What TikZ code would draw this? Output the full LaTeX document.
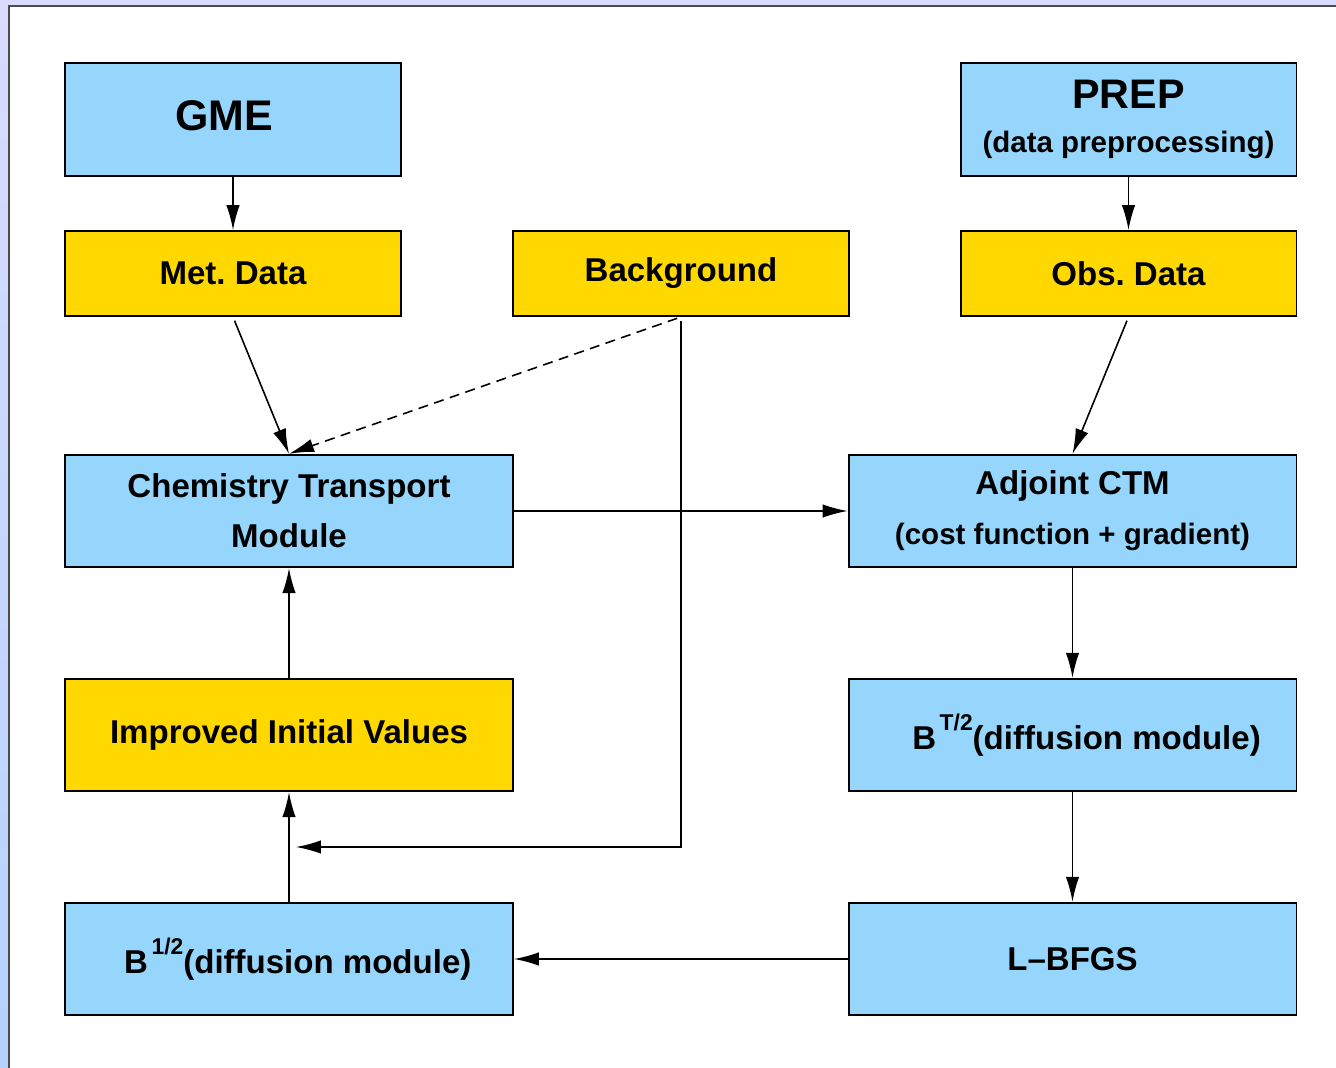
\documentclass[tikz,border=0pt]{standalone}
\usepackage{fontspec}
\setmainfont{Liberation Sans}
\usetikzlibrary{arrows.meta,calc}
\definecolor{boxblue}{RGB}{150,214,252}
\definecolor{boxyellow}{RGB}{255,216,0}
\definecolor{lavender}{RGB}{217,219,255}
\definecolor{edgeblue}{RGB}{182,210,255}
\frenchspacing

\begin{document}
\begin{tikzpicture}[x=0.02cm, y=-0.02cm,
      modbox/.style={rectangle, draw, line width=1.1pt, fill=boxblue, align=center,
        inner sep=0pt, font=\bfseries\fontsize{18.8}{28.3}\selectfont},
      databox/.style={modbox, fill=boxyellow},
      narrow/.style={minimum width=6.72cm},
      wide/.style={minimum width=8.96cm},
      tall/.style={minimum height=2.25cm},
      low/.style={minimum height=1.7cm},
      arr/.style={-{Latex[length=0.5cm,width=0.27cm]}, line width=0.9pt}]
      \useasboundingbox (0,0) rectangle (1336,1068);
      \fill[lavender] (0,0) rectangle (1336,5);
      \shade[top color=lavender, bottom color=edgeblue] (0,5) rectangle (8,1068);
      \draw[line width=0.9pt, black!70] (9,1068) -- (9,6) -- (1336,6);
      \node[modbox,narrow,tall,font=\bfseries\fontsize{24.4}{28}\selectfont](gme) at (233,119.5)
        {\raisebox{4pt}{GME}\hspace*{10pt}};
      \node[modbox,narrow,tall,font=\bfseries\fontsize{23.5}{25}\selectfont](prep) at (1128.5,119.5)
        {PREP\\{\fontsize{16.8}{25}\selectfont(data preprocessing)}};
      \node[databox,narrow,low](met) at (233,273.5){Met. Data};
      \node[databox,narrow,low](bg) at (681,273.5){Background};
      \node[databox,narrow,low](obs) at (1128.5,273.5){Obs. Data};
      \node[modbox,wide,tall](ctm) at (289,511){Chemistry Transport\\Module};
      \node[modbox,wide,tall](adj) at (1072.5,511)
        {Adjoint CTM\\{\fontsize{16.8}{29.5}\selectfont(cost function + gradient)}};
      \node[databox,wide,tall](ivals) at (289,735){Improved Initial Values};
      \node[modbox,wide,tall](bt) at (1072.5,735)
        {\hspace*{16pt}B\kern2pt\raisebox{11pt}{\fontsize{13}{13}\selectfont T/2}(diffusion module)};
      \node[modbox,wide,tall](bhalf) at (289,959)
        {\hspace*{10pt}B\kern2pt\raisebox{11pt}{\fontsize{13}{13}\selectfont 1/2}(diffusion module)};
      \node[modbox,wide,tall](lbfgs) at (1072.5,959){L--BFGS};
      \coordinate(join) at (289,847);
      \draw[arr] (gme) edge (met);
      \draw[arr] (prep) edge (obs);
      \draw[arr,shorten <=0.08cm] (met.south) -- (ctm.north);
      \draw[arr,shorten <=0.08cm,dash pattern=on 0.2cm off 0.13cm] (bg.south) -- (ctm.north);
      \draw[arr,shorten >=0.14cm] (bg.south) ++(0,4) |- (join);
      \draw[arr,shorten <=0.08cm] (obs.south) -- (adj.north);
      \draw[arr] (ctm) edge (adj);
      \draw[arr] (adj) edge (bt);
      \draw[arr] (bt) edge (lbfgs);
      \draw[arr] (lbfgs) edge (bhalf);
      \draw[arr] (bhalf) edge (ivals);
      \draw[arr] (ivals) edge (ctm);
    \end{tikzpicture}
\end{document}
